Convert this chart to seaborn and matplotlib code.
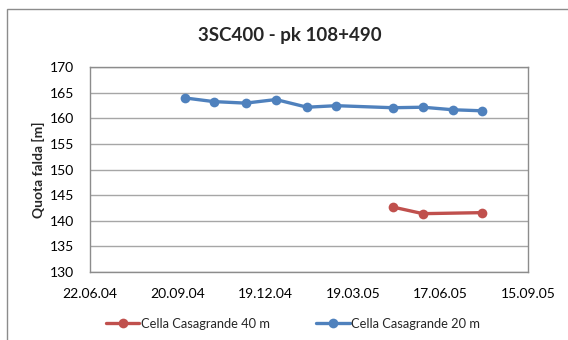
import matplotlib
matplotlib.use("Agg")
import matplotlib.pyplot as plt
import matplotlib.dates as mdates
from matplotlib.patches import Rectangle
import seaborn as sns
import pandas as pd

# Piezometer readings (Casagrande cells)
dates_20m = ["2004-09-28", "2004-10-27", "2004-11-29", "2004-12-30", "2005-01-31",
             "2005-03-02", "2005-04-29", "2005-05-30", "2005-06-30", "2005-07-30"]
quota_20m = [164.0, 163.3, 163.0, 163.7, 162.2, 162.5, 162.1, 162.2, 161.7, 161.5]

dates_40m = ["2005-04-29", "2005-05-30", "2005-07-30"]
quota_40m = [142.7, 141.4, 141.6]

series_names = ["Cella Casagrande 40 m", "Cella Casagrande 20 m"]
series_colors = ["#C0504D", "#4F81BD"]

title = "3SC400 - pk 108+490"
ylabel = "Quota falda [m]"
x_ticks = ["2004-06-22", "2004-09-20", "2004-12-19", "2005-03-19", "2005-06-17", "2005-09-15"]

df = pd.concat([
    pd.DataFrame({"data": pd.to_datetime(dates_40m), "quota": quota_40m, "serie": series_names[0]}),
    pd.DataFrame({"data": pd.to_datetime(dates_20m), "quota": quota_20m, "serie": series_names[1]}),
], ignore_index=True)

sns.set_style("white")
plt.rcParams["font.family"] = ["Lato", "DejaVu Sans"]

fig = plt.figure(figsize=(5.68, 3.40), dpi=100)
ax = fig.add_axes([90 / 568, 1 - 272 / 340, 438 / 568, (272 - 67.3) / 340])

# chart frame
fig.patches.append(Rectangle((7 / 568, -0.1), 1.2, 1 - 9 / 340 + 0.1, transform=fig.transFigure,
                             fill=False, edgecolor="#8c8c8c", linewidth=1.0, zorder=0))

sns.lineplot(data=df, x="data", y="quota", hue="serie", hue_order=series_names,
             palette=series_colors, marker="o", markersize=7, markeredgewidth=0,
             linewidth=2.4, ax=ax, legend=True)

ticks = pd.to_datetime(x_ticks)
ax.set_xlim(ticks[0], ticks[-1])
ax.set_xticks(ticks)
ax.xaxis.set_major_formatter(mdates.DateFormatter("%d.%m.%y"))
ax.set_ylim(130, 170)
ax.set_yticks(range(130, 171, 5))

ax.grid(axis="y", color="#a6a6a6", linewidth=1.0)
ax.grid(axis="x", visible=False)
for s in ax.spines.values():
    s.set_color("#8c8c8c")
    s.set_linewidth(1.0)
ax.tick_params(axis="both", direction="out", length=4, width=1, color="#8c8c8c",
               labelsize=10, labelcolor="black")
ax.tick_params(axis="x", pad=7.5)
ax.tick_params(axis="y", pad=7.5)

ax.set_xlabel("")
ax.set_ylabel(ylabel, fontsize=10, fontweight="bold", labelpad=3)
fig.text(290 / 568, 1 - 35 / 340, title, ha="center", va="center",
         fontsize=13.5, fontweight="bold")

handles, labels = ax.get_legend_handles_labels()
ax.legend_.remove()
fig.legend(handles, labels, loc="center", bbox_to_anchor=(293 / 568, 1 - 324 / 340),
           ncol=2, frameon=False, fontsize=9.3, handlelength=2.6, handletextpad=0.1,
           columnspacing=3.6)

fig.savefig("out.png", dpi=100)
